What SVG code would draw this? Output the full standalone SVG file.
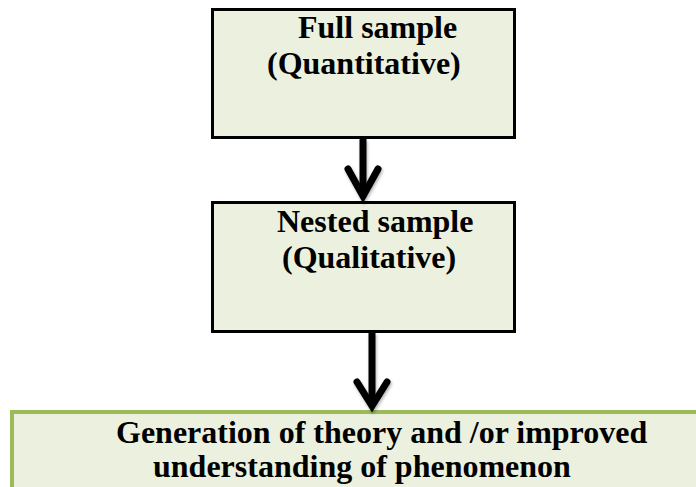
<svg xmlns="http://www.w3.org/2000/svg" width="696" height="487" viewBox="0 0 696 487">
  <defs>
    <filter id="soft" x="-50%" y="-20%" width="200%" height="140%">
      <feDropShadow dx="1" dy="2" stdDeviation="1.5" flood-color="#000" flood-opacity="0.3"/>
    </filter>
  </defs>
  <style>
    .box { fill: #ebf1de; stroke: #000; stroke-width: 3; }
    .result { fill: #ebf1de; stroke: #9bbb59; stroke-width: 4; }
    .label { font-family: "Liberation Serif", "Times New Roman", serif; font-weight: bold; font-size: 32px; fill: #000; }
    .shaft { fill: none; stroke: #000; stroke-width: 7; }
    .head { fill: none; stroke: #000; stroke-width: 7; stroke-linecap: round; stroke-linejoin: miter; }
  </style>
  <rect width="696" height="487" fill="#fff"/>

  <g id="full-sample">
    <rect class="box" x="212.5" y="9.5" width="302" height="128"/>
    <text class="label" x="298" y="38">Full sample</text>
    <text class="label" x="267" y="74">(Quantitative)</text>
  </g>

  <g id="nested-sample">
    <rect class="box" x="212.5" y="202.5" width="302" height="129"/>
    <text class="label" x="277" y="232">Nested sample</text>
    <text class="label" x="282" y="268">(Qualitative)</text>
  </g>

  <g id="outcome">
    <rect class="result" x="12" y="412" width="700" height="100"/>
    <text class="label" x="116" y="443">Generation of theory and /or improved</text>
    <text class="label" x="153" y="477">understanding of phenomenon</text>
  </g>

  <g id="connectors" filter="url(#soft)">
    <line class="shaft" x1="363" y1="139" x2="363" y2="196"/>
    <polyline class="head" points="348,169 363,196 378,169"/>
    <line class="shaft" x1="372" y1="333" x2="372" y2="406"/>
    <polyline class="head" points="357,382 372,406 387,382"/>
  </g>
</svg>
